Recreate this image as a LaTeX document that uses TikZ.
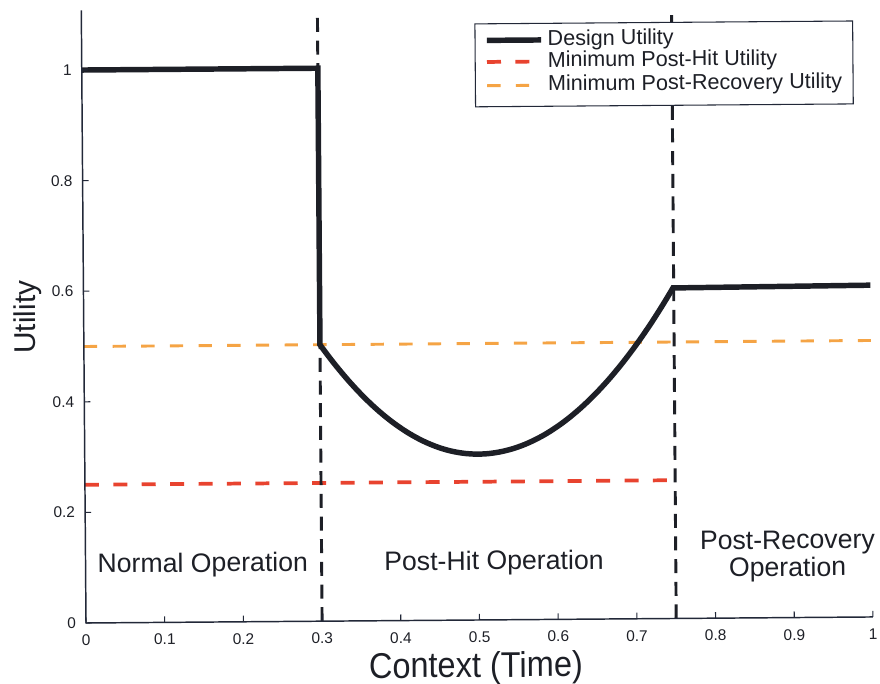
\documentclass[tikz,border=0pt]{standalone}
\usepackage{fontspec}
\setmainfont{Liberation Sans}
\definecolor{inkc}{HTML}{1D1F26}
\definecolor{axisc}{HTML}{222838}
\definecolor{hitred}{HTML}{E8432F}
\definecolor{recorange}{HTML}{F5A445}
\begin{document}
\begin{tikzpicture}[x=0.75pt,y=0.75pt,
  axisline/.style={draw=axisc, line width=1.1pt},
  tickmark/.style={draw=axisc, line width=0.8pt},
  ticklabel/.style={text=inkc, font=\fontsize{11.6}{12}\selectfont, inner sep=0pt},
  designline/.style={draw=inkc, line width=4.1pt},
  hitline/.style={draw=hitred, line width=2.8pt, dash pattern=on 10.5pt off 10.8pt},
  recline/.style={draw=recorange, line width=2.2pt, dash pattern=on 10pt off 11.5pt},
  phaseline/.style={draw=inkc, line width=2.2pt, dash pattern=on 10.5pt off 6.5pt},
  regionlabel/.style={text=inkc, font=\fontsize{20}{20.5}\selectfont, align=center, inner sep=0pt},
  legendtext/.style={text=inkc, font=\fontsize{16.2}{17}\selectfont, anchor=west, inner sep=0pt},
  axislabel/.style={text=inkc, font=\fontsize{24.4}{26}\selectfont, inner sep=0pt}]
\useasboundingbox (0,0) rectangle (880,684);
% data frame: x from 0 to 1, utility from 0 to 1.1
\begin{scope}[shift={(86,61)}, rotate=0.44, transform shape, x=590.25pt, y=414.75pt]
  % threshold lines
  \draw[recline] (0,0.5) -- (1,0.5);
  \draw[hitline] (0,0.25) -- (0.75,0.25);
  % phase boundaries
  \draw[phaseline] (0.3,0) -- (0.3,1.1);
  \draw[phaseline] (0.75,0) -- (0.75,1.1);
  % design utility over time
  \draw[designline, line join=miter]
    (0,1) -- (0.3,1) -- (0.3,0.5)
    -- plot[domain=0.3:0.75, samples=91, smooth] (\x, {0.3 + (\x<0.5 ? 5 : 4.8)*(\x-0.5)^2})
    -- (1,0.6);
  % axes
  \draw[axisline] (0,1.108) -- (0,0) -- (1,0);
  \foreach \t [count=\i] in {0,0.1,0.2,0.3,0.4,0.5,0.6,0.7,0.8,0.9,1} {
    \draw[tickmark] (\t,0) -- ++(0,0.011);
    \node[ticklabel] (xt\i) at (\t,-0.031) {\t};
  }
  \foreach \t [count=\i] in {0,0.2,0.4,0.6,0.8,1} {
    \draw[tickmark] (0,\t) -- ++(0.0076,0);
    \node[ticklabel, anchor=east] (yt\i) at (-0.0125,\t) {\t};
  }
  \node[axislabel, rotate=90, font=\fontsize{22.5}{24}\selectfont] (ylab) at (-0.0708,0.554) {Utility};
  \node[axislabel, yscale=1.1] (xlab) at (0.495,-0.087) {Context (Time)};
  % phase names
  \node[regionlabel] (normal) at (0.149,0.103) {Normal Operation};
  \node[regionlabel] (posthit) at (0.519,0.103) {Post-Hit Operation};
  \node[regionlabel] (postrec) at (0.892,0.111) {Post-Recovery\\Operation};
  % legend
  \node[draw=axisc, line width=0.8pt, fill=white, minimum width=283.3pt, minimum height=62.2pt, inner sep=0pt] (legend) at (0.74,1.003) {};
  \draw[designline] (0.515,1.048) -- (0.584,1.048);
  \draw[hitline] (0.515,1.009) -- (0.584,1.009);
  \draw[recline] (0.515,0.966) -- (0.584,0.966);
  \node[legendtext] (legdesign) at (0.592,1.048) {Design Utility};
  \node[legendtext] (leghit) at (0.592,1.009) {Minimum Post-Hit Utility};
  \node[legendtext] (legrec) at (0.592,0.966) {Minimum Post-Recovery Utility};
\end{scope}
\end{tikzpicture}
\end{document}
